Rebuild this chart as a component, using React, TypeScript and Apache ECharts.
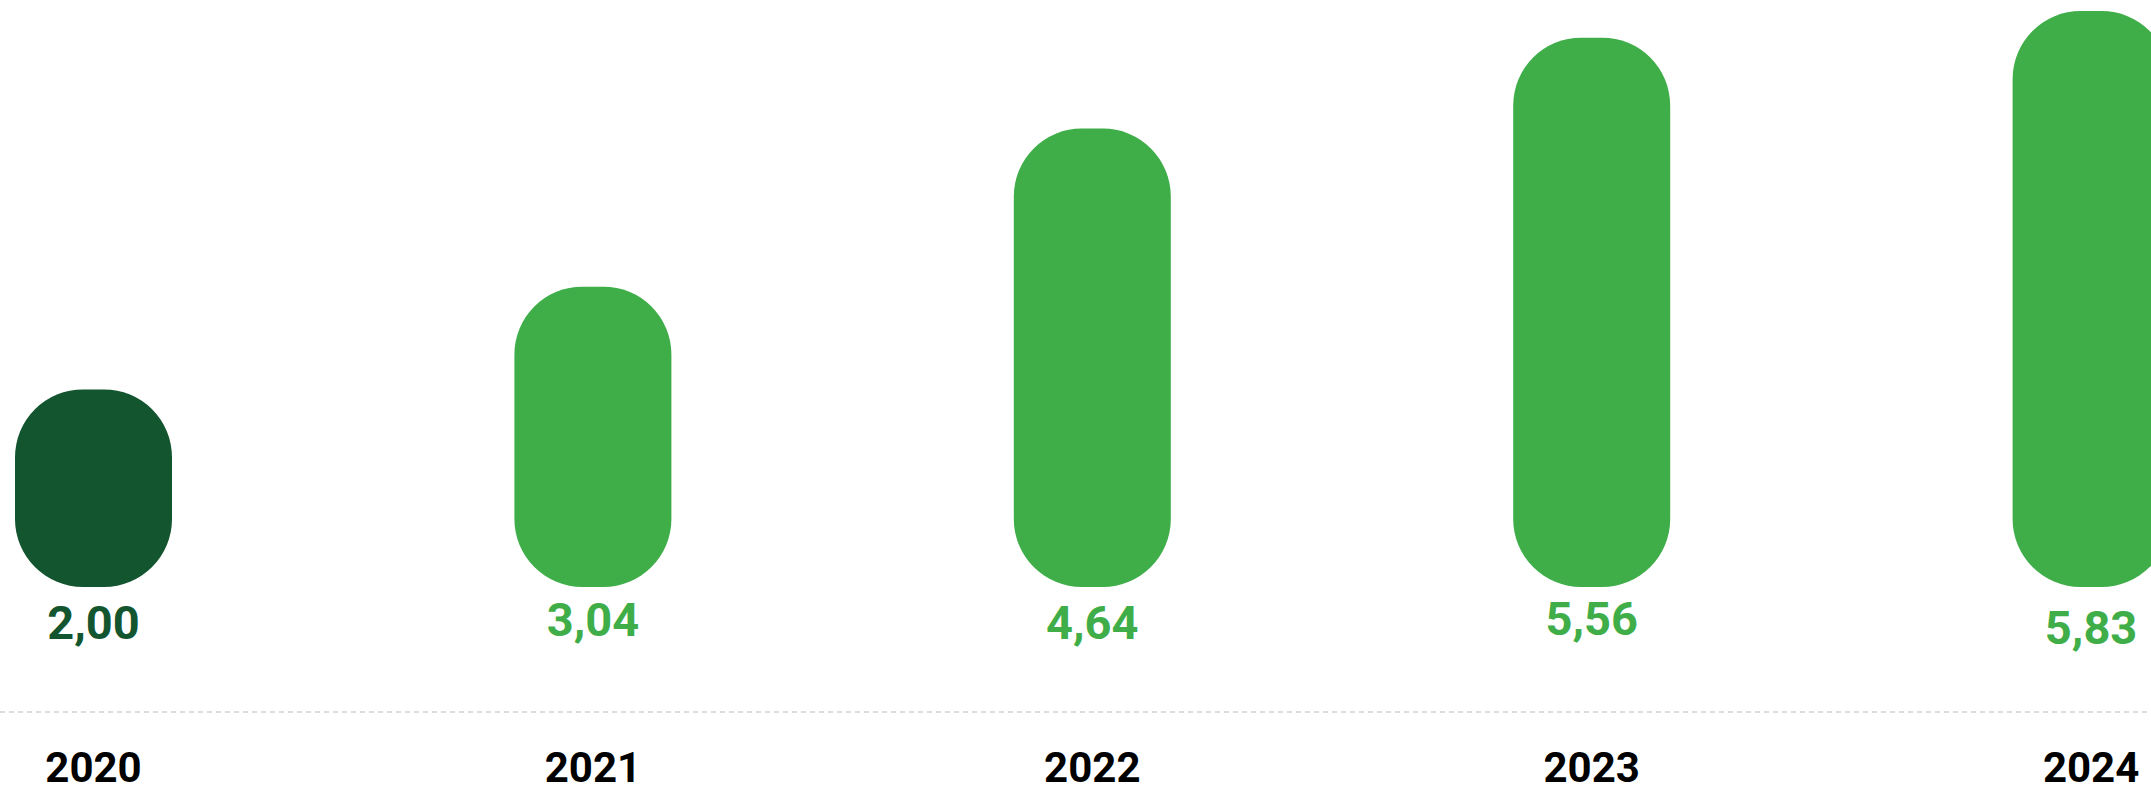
import React, { useEffect, useRef } from "react";
import * as echarts from "echarts";

const categories = ["2020", "2021", "2022", "2023", "2024"];
const values = [2.0, 3.04, 4.64, 5.56, 5.83];
const valueLabels = ["2,00", "3,04", "4,64", "5,56", "5,83"];
const barColors = ["#12552F", "#3FAE49", "#3FAE49", "#3FAE49", "#3FAE49"];
const labelDistances = [12, 9, 12, 8, 17];

export default function App() {
  const ref = useRef<HTMLDivElement>(null);

  useEffect(() => {
    if (!ref.current) return;
    const chart = echarts.init(ref.current, undefined, { renderer: "svg" });
    const data = values.map((v, i) => ({
      value: v,
      itemStyle: { color: barColors[i] },
      label: {
        color: barColors[i],
        distance: labelDistances[i],
        formatter: () => valueLabels[i],
      },
    }));
    chart.setOption({
      animation: false,
      backgroundColor: "#ffffff",
      grid: { left: 93.5, right: 59.9, top: 0, bottom: 80, containLabel: false },
      graphic: [
        {
          type: "line",
          shape: { x1: 0, y1: 712, x2: 2151, y2: 712 },
          style: { stroke: "#bdbdbd", lineWidth: 1, lineDash: [5, 4] },
          silent: true,
        },
      ],
      xAxis: {
        type: "category",
        data: categories,
        boundaryGap: false,
        axisLine: { show: false, onZero: false },
        axisTick: { show: false },
        splitLine: { show: false },
        axisLabel: {
          color: "#000000",
          fontFamily: "Roboto",
          fontWeight: 700,
          fontSize: 42,
          lineHeight: 36,
          margin: 37,
        },
      },
      yAxis: {
        type: "value",
        min: -1.265,
        max: 5.941,
        show: false,
        splitLine: { show: false },
      },
      series: [
        {
          type: "bar",
          data,
          barWidth: 157,
          itemStyle: { borderRadius: 68 },
          label: {
            show: true,
            position: "bottom",
            fontFamily: "Roboto",
            fontWeight: 700,
            fontSize: 47,
          },
        },
      ],
    });
    return () => chart.dispose();
  }, []);

  return (
    <div
      ref={ref}
      style={{ position: "fixed", left: 0, top: 0, width: 2151, height: 792 }}
    />
  );
}
